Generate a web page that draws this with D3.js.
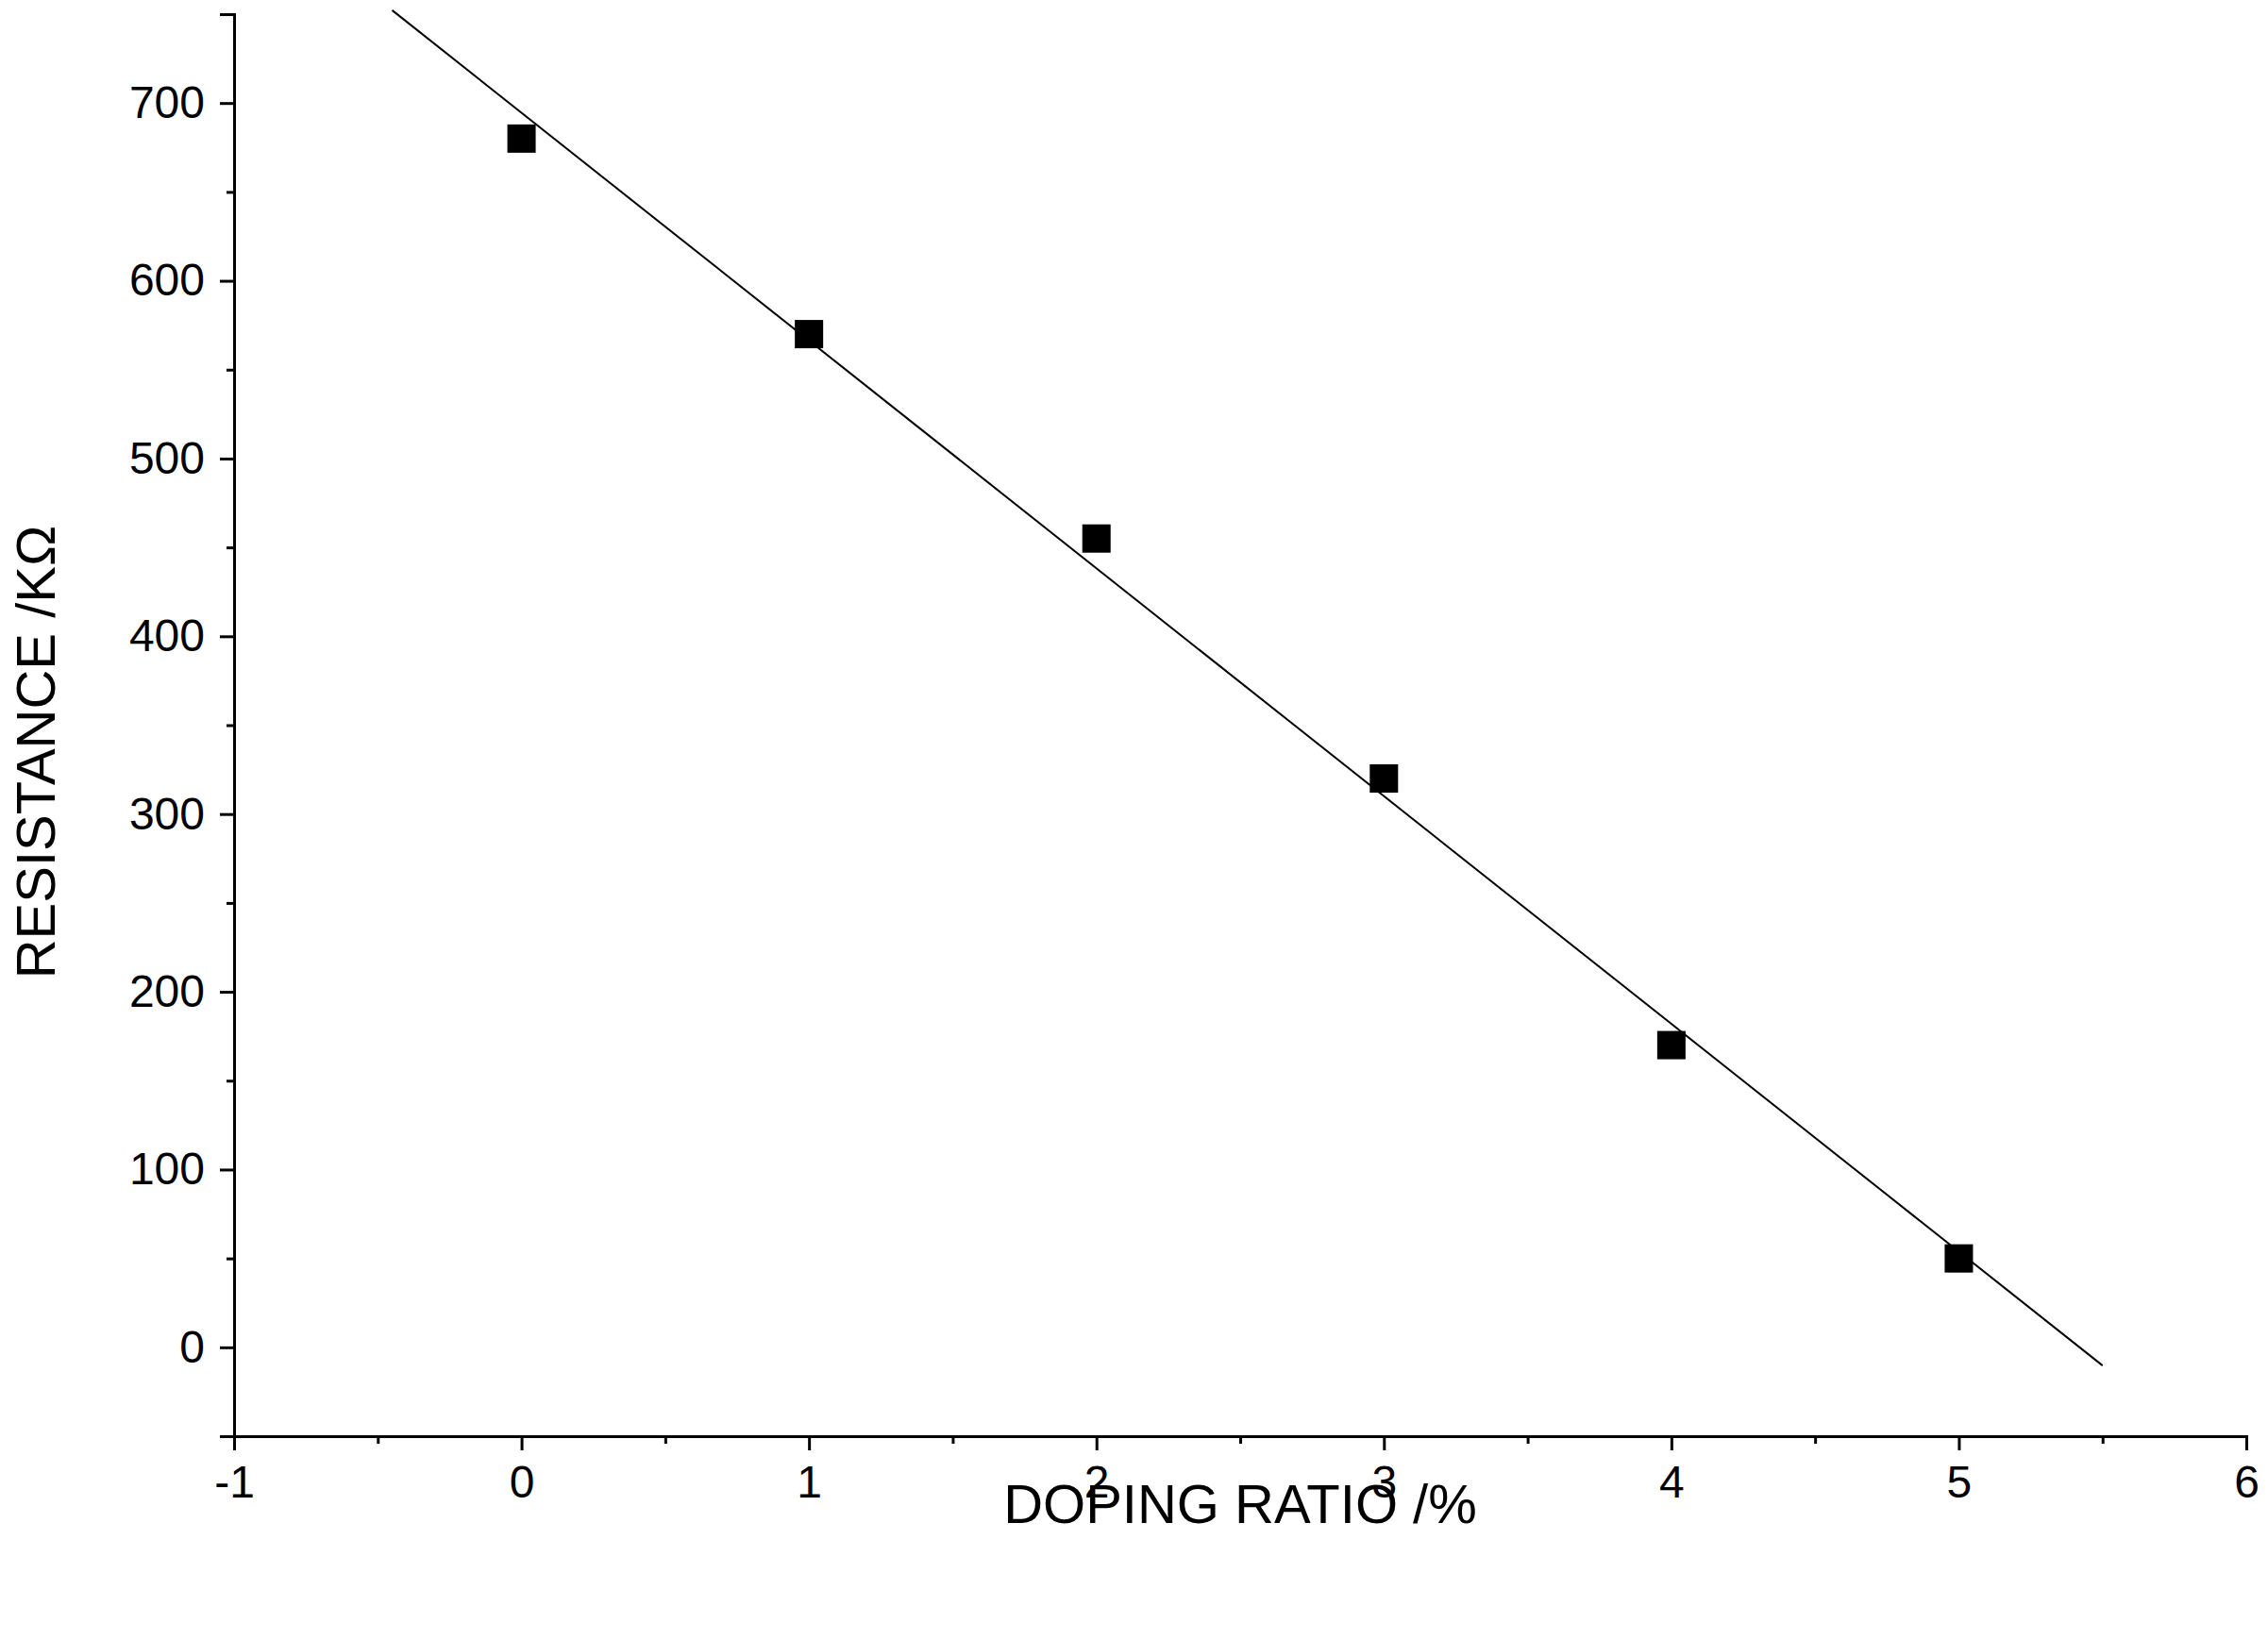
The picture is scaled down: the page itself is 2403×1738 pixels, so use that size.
<!DOCTYPE html>
<html><head><meta charset="utf-8">
<script src="https://cdn.jsdelivr.net/npm/d3@7"></script>
<style>body{margin:0;background:#fff}text{font-family:"Liberation Sans",Arial,sans-serif}</style>
</head><body><svg id="c" width="2403" height="1738"></svg>
<script>
const doping = [0, 1, 2, 3, 4, 5];
const resistance = [680, 570, 455, 320, 170, 50];
const xTicks = [-1, 0, 1, 2, 3, 4, 5, 6];
const yTicks = [0, 100, 200, 300, 400, 500, 600, 700];
const fitRange = [-0.45, 5.5];

const svg = d3.select("#c");
const x = d3.scaleLinear().domain([-1, 6]).range([248, 2380]);
const y = d3.scaleLinear().domain([-50, 750]).range([1522, 15]);

// least squares fit
const mx = d3.mean(doping), my = d3.mean(resistance);
const slope = d3.sum(doping, (d, i) => (d - mx) * (resistance[i] - my)) / d3.sum(doping, d => (d - mx) ** 2);
const icpt = my - slope * mx;

svg.append("g").attr("transform", "translate(0,1522)")
  .call(d3.axisBottom(x).tickValues(xTicks).tickSize(15).tickPadding(16).tickFormat(d => String(d)));
svg.append("g").attr("transform", "translate(0,1522)")
  .call(d3.axisBottom(x).tickValues(d3.range(-0.5, 6, 1)).tickSize(8).tickFormat(""))
  .select(".domain").remove();
svg.append("g").attr("transform", "translate(248,0)")
  .call(d3.axisLeft(y).tickValues(yTicks).tickSize(15).tickPadding(16).tickFormat(d => String(d)));
svg.append("g").attr("transform", "translate(248,0)")
  .call(d3.axisLeft(y).tickValues(d3.range(-50, 751, 100)).tickSize(8).tickFormat(""))
  .select(".domain").remove();
svg.selectAll(".domain, .tick line").attr("stroke", "#000").attr("stroke-width", 3);
svg.selectAll(".tick text").attr("font-size", 48).attr("fill", "#000");

svg.append("line")
  .attr("x1", x(fitRange[0])).attr("y1", y(icpt + slope * fitRange[0]))
  .attr("x2", x(fitRange[1])).attr("y2", y(icpt + slope * fitRange[1]))
  .attr("stroke", "#000").attr("stroke-width", 2);

svg.selectAll("rect.pt").data(doping).join("rect").attr("class", "pt")
  .attr("x", d => x(d) - 15).attr("y", (d, i) => y(resistance[i]) - 15)
  .attr("width", 30).attr("height", 30).attr("fill", "#000");

svg.append("text").attr("x", 1314).attr("y", 1594 + 20).attr("text-anchor", "middle")
  .attr("font-size", 58).text("DOPING RATIO /%");
svg.append("text").attr("transform", "translate(58,797) rotate(-90)").attr("text-anchor", "middle")
  .attr("font-size", 58).text("RESISTANCE /KΩ");
</script></body></html>
